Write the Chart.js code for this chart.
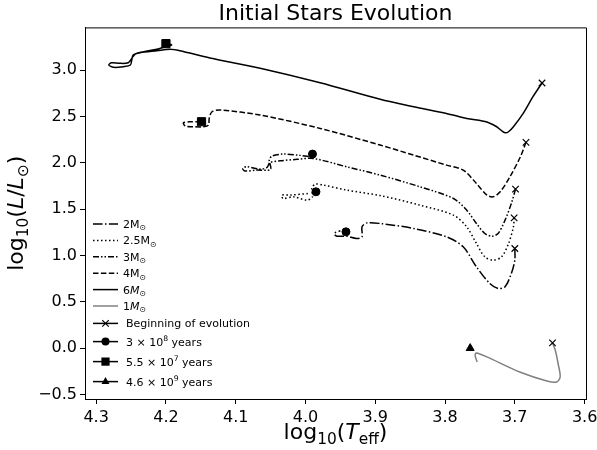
<!DOCTYPE html>
<html>
<head>
<meta charset="utf-8">
<script src="https://cdn.jsdelivr.net/npm/chart.js@4/dist/chart.umd.min.js"></script>
<style>
  body { margin: 0; background: #fff; }
</style>
</head>
<body>
<canvas id="chart" width="597" height="450"></canvas>
<script>
// log10(Teff) and log10(L/Lsun) along each track, from the start (x marker) to the end
const teff2 = [3.700, 3.700, 3.705, 3.714, 3.724, 3.736, 3.755, 3.774, 3.798, 3.845, 3.893, 3.912, 3.919, 3.919, 3.927, 3.941, 3.955, 3.959, 3.950];
const lum2 = [1.074, 0.948, 0.805, 0.660, 0.643, 0.697, 0.876, 1.092, 1.200, 1.290, 1.344, 1.350, 1.308, 1.200, 1.182, 1.207, 1.207, 1.236, 1.265];

const teff25 = [3.701, 3.702, 3.709, 3.719, 3.731, 3.743, 3.755, 3.769, 3.788, 3.836, 3.893, 3.941, 3.974, 3.986, 3.991, 3.990, 3.998, 4.017, 4.032, 4.034, 4.022, 3.996];
const lum25 = [1.405, 1.308, 1.128, 0.984, 0.948, 0.984, 1.128, 1.308, 1.434, 1.542, 1.645, 1.704, 1.758, 1.769, 1.722, 1.632, 1.596, 1.632, 1.614, 1.650, 1.650, 1.668];

const teff3 = [3.699, 3.705, 3.714, 3.724, 3.733, 3.743, 3.755, 3.769, 3.788, 3.836, 3.893, 3.941, 3.989, 4.012, 4.036, 4.051, 4.055, 4.065, 4.084, 4.090, 4.087, 4.070, 4.050, 4.052, 4.048, 4.032, 4.008, 3.993];
const lum3 = [1.715, 1.560, 1.380, 1.236, 1.207, 1.236, 1.344, 1.488, 1.614, 1.740, 1.866, 1.956, 2.046, 2.036, 2.021, 2.000, 1.949, 1.931, 1.956, 1.938, 1.910, 1.920, 1.928, 2.028, 2.071, 2.093, 2.079, 2.064];

const teff4 = [3.684, 3.692, 3.707, 3.721, 3.731, 3.740, 3.755, 3.774, 3.798, 3.845, 3.893, 3.979, 4.065, 4.122, 4.134, 4.138, 4.139, 4.146, 4.161, 4.172, 4.175, 4.165, 4.152];
const lum4 = [2.220, 2.064, 1.848, 1.686, 1.632, 1.650, 1.776, 1.920, 1.974, 2.082, 2.190, 2.370, 2.514, 2.568, 2.550, 2.478, 2.406, 2.388, 2.388, 2.395, 2.431, 2.442, 2.442];

const teff6 = [3.661, 3.674, 3.688, 3.702, 3.709, 3.714, 3.719, 3.726, 3.740, 3.769, 3.798, 3.845, 3.893, 3.979, 4.065, 4.137, 4.180, 4.194, 4.213, 4.237, 4.247, 4.249, 4.251, 4.261, 4.275, 4.282, 4.278, 4.266, 4.254, 4.249, 4.244, 4.232, 4.213, 4.201, 4.192, 4.194];
const lum6 = [2.860, 2.712, 2.532, 2.388, 2.334, 2.323, 2.345, 2.388, 2.440, 2.478, 2.532, 2.604, 2.684, 2.863, 3.020, 3.130, 3.208, 3.224, 3.208, 3.187, 3.162, 3.108, 3.054, 3.036, 3.029, 3.054, 3.079, 3.072, 3.079, 3.126, 3.173, 3.198, 3.224, 3.252, 3.270, 3.281];

const teff1 = [3.646, 3.642, 3.638, 3.635, 3.640, 3.654, 3.693, 3.740, 3.755, 3.757, 3.754];
const lum1 = [0.055, -0.024, -0.167, -0.310, -0.366, -0.355, -0.258, -0.096, -0.053, -0.078, -0.150];

// age markers
const circleTeff = [3.942, 3.985, 3.990];
const circleLum = [1.254, 1.686, 2.093];
const squareTeff = [4.149, 4.200];
const squareLum = [2.442, 3.285];
const triTeff = [3.764];
const triLum = [-0.002];

const FONT = "'DejaVu Sans', sans-serif";

function pts(xs, ys) {
    return xs.map((x, i) => ({ x: x, y: ys[i] }));
}

const tracks = [
    { xs: teff2, ys: lum2, color: '#000', dash: [9.6, 2.4, 1.5, 2.4] },
    { xs: teff25, ys: lum25, color: '#000', dash: [1.5, 2.5] },
    { xs: teff3, ys: lum3, color: '#000', dash: [6, 2, 1.5, 2, 1.5, 2] },
    { xs: teff4, ys: lum4, color: '#000', dash: [5.5, 2.4] },
    { xs: teff6, ys: lum6, color: '#000', dash: [] },
    { xs: teff1, ys: lum1, color: '#808080', dash: [] }
];

const startTeff = tracks.map(t => t.xs[0]);
const startLum = tracks.map(t => t.ys[0]);

const markerSets = [
    { xs: startTeff, ys: startLum, style: 'crossRot', r: 4.6 },
    { xs: circleTeff, ys: circleLum, style: 'circle', r: 4 },
    { xs: squareTeff, ys: squareLum, style: 'rect', r: 5.8 },
    { xs: triTeff, ys: triLum, style: 'triangle', r: 4.6 }
];

const datasets = [];
markerSets.forEach(m => {
    datasets.push({
        data: pts(m.xs, m.ys),
        showLine: false,
        pointStyle: m.style,
        pointRadius: m.r,
        pointHoverRadius: m.r,
        pointBackgroundColor: '#000',
        pointBorderColor: '#000',
        pointBorderWidth: m.style === 'crossRot' ? 1.2 : 1,
        order: 0
    });
});
tracks.forEach(t => {
    datasets.push({
        data: pts(t.xs, t.ys),
        showLine: true,
        borderColor: t.color,
        borderWidth: 1.5,
        borderDash: t.dash,
        pointRadius: 0,
        tension: 0.3,
        fill: false,
        order: 1
    });
});

// legend rows: line style or marker, then label pieces
const legendRows = [
    { track: 0, y: 224, text: [['2M'], ['⊙', 'sub']] },
    { track: 1, y: 240.4, text: [['2.5M'], ['⊙', 'sub']] },
    { track: 2, y: 256.8, text: [['3M'], ['⊙', 'sub']] },
    { track: 3, y: 273.2, text: [['4M'], ['⊙', 'sub']] },
    { track: 4, y: 289.6, text: [['6'], ['M', 'it'], ['⊙', 'sub']] },
    { track: 5, y: 306, text: [['1'], ['M', 'it'], ['⊙', 'sub']] },
    { marker: 0, y: 323.4, text: [['Beginning of evolution']] },
    { marker: 1, y: 341.6, text: [['3 × 10'], ['8', 'sup'], [' years']] },
    { marker: 2, y: 361.6, text: [['5.5 × 10'], ['7', 'sup'], [' years']] },
    { marker: 3, y: 381.6, text: [['4.6 × 10'], ['9', 'sup'], [' years']] }
];

function partFont(kind, size) {
    const s = (kind === 'sub' || kind === 'sup') ? size * 0.7 : size;
    const it = (kind === 'it') ? 'italic ' : '';
    return it + s + 'px ' + FONT;
}

function richWidth(ctx, parts, size) {
    let w = 0;
    parts.forEach(p => {
        ctx.font = partFont(p[1], size);
        w += ctx.measureText(p[0]).width;
    });
    return w;
}

function drawRich(ctx, parts, x, baseline, size) {
    ctx.textBaseline = 'alphabetic';
    ctx.textAlign = 'left';
    parts.forEach(p => {
        ctx.font = partFont(p[1], size);
        let dy = 0;
        if (p[1] === 'sub') dy = size * 0.22;
        if (p[1] === 'sup') dy = -size * 0.38;
        ctx.fillText(p[0], x, baseline + dy);
        x += ctx.measureText(p[0]).width;
    });
}

function drawMarker(ctx, style, x, y, r) {
    ctx.save();
    ctx.fillStyle = '#000';
    ctx.strokeStyle = '#000';
    ctx.setLineDash([]);
    ctx.beginPath();
    if (style === 'crossRot') {
        const d = r * Math.SQRT1_2;
        ctx.lineWidth = 1.2;
        ctx.moveTo(x - d, y - d); ctx.lineTo(x + d, y + d);
        ctx.moveTo(x + d, y - d); ctx.lineTo(x - d, y + d);
        ctx.stroke();
    } else if (style === 'circle') {
        ctx.arc(x, y, r, 0, Math.PI * 2);
        ctx.fill();
    } else if (style === 'rect') {
        const s = r * Math.SQRT1_2;
        ctx.fillRect(x - s, y - s, 2 * s, 2 * s);
    } else {
        ctx.moveTo(x, y - r);
        ctx.lineTo(x + r * 0.866, y + r * 0.5);
        ctx.lineTo(x - r * 0.866, y + r * 0.5);
        ctx.closePath();
        ctx.fill();
    }
    ctx.restore();
}

const extras = {
    id: 'extras',
    afterDraw(chart) {
        const ctx = chart.ctx;
        const a = chart.chartArea;
        ctx.save();
        // top and right spines
        ctx.strokeStyle = '#000';
        ctx.lineWidth = 1;
        ctx.beginPath();
        ctx.moveTo(a.left, a.top + 0.5);
        ctx.lineTo(a.right + 0.5, a.top + 0.5);
        ctx.lineTo(a.right + 0.5, a.bottom);
        ctx.stroke();

        // legend
        ctx.fillStyle = '#000';
        legendRows.forEach(row => {
            ctx.save();
            ctx.lineWidth = 1.5;
            if (row.track !== undefined) {
                const t = tracks[row.track];
                ctx.strokeStyle = t.color;
                ctx.setLineDash(t.dash);
            } else {
                ctx.strokeStyle = '#000';
                ctx.setLineDash([]);
            }
            ctx.beginPath();
            ctx.moveTo(93, row.y);
            ctx.lineTo(118, row.y);
            ctx.stroke();
            ctx.restore();
            if (row.marker !== undefined) {
                const m = markerSets[row.marker];
                drawMarker(ctx, m.style, 105.5, row.y, m.r);
            }
            ctx.fillStyle = '#000';
            drawRich(ctx, row.text, row.marker !== undefined ? 126 : 123, row.y + 4, 11);
        });

        // axis titles
        const size = 22;
        const xTitle = [['log'], ['10', 'sub'], ['('], ['T', 'it'], ['eff', 'sub'], [')']];
        const yTitle = [['log'], ['10', 'sub'], ['('], ['L', 'it'], ['/'], ['L', 'it'], ['⊙', 'sub'], [')']];
        const cx = (a.left + a.right) / 2;
        let w = richWidth(ctx, xTitle, size);
        drawRich(ctx, xTitle, cx - w / 2, 439, size);

        ctx.translate(23, (a.top + a.bottom) / 2);
        ctx.rotate(-Math.PI / 2);
        w = richWidth(ctx, yTitle, size);
        drawRich(ctx, yTitle, -w / 2, 0, size);
        ctx.restore();
    }
};

function fmt(v) {
    const s = Math.abs(v) < 1e-9 ? '0.0' : v.toFixed(1);
    return s.replace('-', '\u2212');
}

const ctx = document.getElementById('chart').getContext('2d');
new Chart(ctx, {
    type: 'scatter',
    data: { datasets: datasets },
    options: {
        responsive: false,
        animation: false,
        layout: { padding: { left: 0, right: 11, top: 0, bottom: 0 } },
        plugins: {
            legend: { display: false },
            tooltip: { enabled: false },
            title: {
                display: true,
                fullSize: false,
                text: 'Initial Stars Evolution',
                color: '#000',
                font: { family: FONT, size: 22, weight: 'normal', lineHeight: 1.2 },
                padding: { top: 1, bottom: 0 }
            }
        },
        scales: {
            x: {
                type: 'linear',
                reverse: true,
                min: 3.598,
                max: 4.316,
                // fixed axis band; tick labels may overhang the plot edges
                afterFit: s => { s.height = 51; s.paddingLeft = 0; s.paddingRight = 0; },
                border: { display: true, color: '#000', width: 1 },
                grid: { drawOnChartArea: false, drawTicks: true, tickLength: 5, color: '#000' },
                ticks: {
                    stepSize: 0.1,
                    includeBounds: false,
                    color: '#000',
                    padding: 4,
                    maxRotation: 0,
                    font: { family: FONT, size: 16 },
                    callback: v => fmt(v)
                }
            },
            y: {
                type: 'linear',
                min: -0.55,
                max: 3.46,
                afterFit: s => { s.width = 85; s.paddingTop = 0; s.paddingBottom = 0; },
                border: { display: true, color: '#000', width: 1 },
                grid: { drawOnChartArea: false, drawTicks: true, tickLength: 5, color: '#000' },
                ticks: {
                    stepSize: 0.5,
                    includeBounds: false,
                    color: '#000',
                    padding: 3,
                    font: { family: FONT, size: 16 },
                    callback: v => fmt(v)
                }
            }
        }
    },
    plugins: [extras]
});
</script>
</body>
</html>
